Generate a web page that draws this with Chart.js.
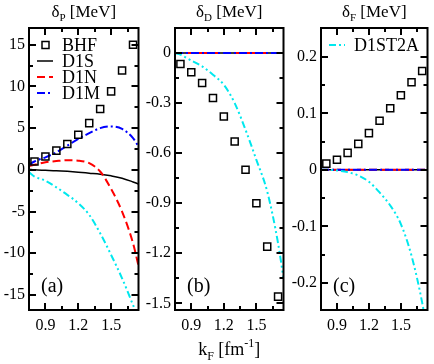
<!DOCTYPE html>
<html lang="en">
<head>
    <meta charset="UTF-8">
    <title>delta P D F</title>
    <script src="https://cdn.jsdelivr.net/npm/chart.js@4.4.1/dist/chart.umd.min.js"></script>
    <style>
        body { margin: 0; background: #fff; }
        #wrap { position: relative; width: 434px; height: 364px; background: #fff; }
        canvas { position: absolute; top: 0; }
    </style>
</head>
<body>
<div id="wrap">
    <canvas id="chartP" width="145" height="364" style="left:0px"></canvas>
    <canvas id="chartD" width="145" height="364" style="left:145px"></canvas>
    <canvas id="chartF" width="144" height="364" style="left:290px"></canvas>
</div>
<script>
    // k_F grid for the curves and for the BHF points
    const kF = [0.75, 0.8, 0.9, 1.0, 1.1, 1.2, 1.3, 1.4, 1.5, 1.6, 1.7, 1.75];
    const kBHF = [0.8, 0.9, 1.0, 1.1, 1.2, 1.3, 1.4, 1.5, 1.6, 1.7];

    // (a) delta_P
    const bhfP = [1.0, 1.6, 2.3, 3.1, 4.2, 5.6, 7.3, 9.4, 11.9, 15.0];
    const d1sP = [0.05, 0.0, -0.05, -0.1, -0.18, -0.28, -0.4, -0.52, -0.72, -1.0, -1.45, -1.7];
    const d1nP = [0.45, 0.6, 0.9, 1.05, 1.15, 1.1, 0.8, -0.2, -2.3, -5.0, -8.8, -11.5];
    const d1mP = [0.6, 1.0, 1.5, 2.1, 2.9, 3.7, 4.4, 5.0, 5.2, 4.9, 3.8, 2.8];
    const d1st2aP = [-0.3, -0.8, -1.3, -2.1, -3.0, -4.0, -5.4, -7.6, -10.2, -13.0, -16.2, -17.8];

    // (b) delta_D
    const bhfD = [-0.066, -0.115, -0.18, -0.27, -0.38, -0.53, -0.70, -0.90, -1.16, -1.46];
    const d1sD = [0, 0, 0, 0, 0, 0, 0, 0, 0, 0, 0, 0];
    const d1nD = [0, 0, 0, 0, 0, 0, 0, 0, 0, 0, 0, 0];
    const d1mD = [0, 0, 0, 0, 0, 0, 0, 0, 0, 0, 0, 0];
    const d1st2aD = [0, -0.01, -0.045, -0.08, -0.13, -0.19, -0.30, -0.46, -0.64, -0.83, -1.14, -1.35];

    // (c) delta_F
    const bhfF = [0.011, 0.018, 0.030, 0.046, 0.065, 0.087, 0.109, 0.132, 0.155, 0.175];
    const d1sF = [0, 0, 0, 0, 0, 0, 0, 0, 0, 0, 0, 0];
    const d1nF = [0, 0, 0, 0, 0, 0, 0, 0, 0, 0, 0, 0];
    const d1mF = [0, 0, 0, 0, 0, 0, 0, 0, 0, 0, 0, 0];
    const d1st2aF = [0, 0, -0.001, -0.004, -0.01, -0.021, -0.04, -0.063, -0.096, -0.152, -0.235, -0.29];

    // ticks
    const xTicks = [0.9, 1.2, 1.5];
    const xLabels = ['0.9', '1.2', '1.5'];
    const xMinor = [1.05, 1.35, 1.65];
    const yTicksP = [15, 10, 5, 0, -5, -10, -15];
    const yLabelsP = ['15', '10', '5', '0', '-5', '-10', '-15'];
    const yMinorP = [12.5, 7.5, 2.5, -2.5, -7.5, -12.5];
    const yTicksD = [0, -0.3, -0.6, -0.9, -1.2, -1.5];
    const yLabelsD = ['0', '-0.3', '-0.6', '-0.9', '-1.2', '-1.5'];
    const yMinorD = [0.15, -0.15, -0.45, -0.75, -1.05, -1.35];
    const yTicksF = [0.2, 0.1, 0, -0.1, -0.2];
    const yLabelsF = ['0.2', '0.1', '0', '-0.1', '-0.2'];
    const yMinorF = [0.15, 0.05, -0.05, -0.15];

    const FONT = "'Liberation Serif', 'Times New Roman', serif";

    function pts(xs, ys) {
        return xs.map((x, i) => ({ x: x, y: ys[i] }));
    }

    // draws text pieces with sub/superscripts, centred on cx
    function richText(ctx, parts, cx, base) {
        let w = 0;
        parts.forEach(p => {
            ctx.font = p.s + 'px ' + FONT;
            p.w = ctx.measureText(p.t).width;
            w += p.w;
        });
        let x = cx - w / 2;
        ctx.fillStyle = '#000';
        ctx.textAlign = 'left';
        ctx.textBaseline = 'alphabetic';
        parts.forEach(p => {
            ctx.font = p.s + 'px ' + FONT;
            ctx.fillText(p.t, x, base + (p.dy || 0));
            x += p.w;
        });
    }

    const framePlugin = {
        id: 'frame',
        afterDraw(chart, args, opts) {
            const ctx = chart.ctx;
            const a = chart.chartArea;
            const sx = chart.scales.x, sy = chart.scales.y;
            ctx.save();
            ctx.strokeStyle = '#000';
            ctx.lineWidth = 2;
            ctx.setLineDash([]);
            ctx.beginPath();
            const tickX = (v, len) => {
                const px = Math.round(sx.getPixelForValue(v));
                ctx.moveTo(px, a.bottom); ctx.lineTo(px, a.bottom - len);
                ctx.moveTo(px, a.top); ctx.lineTo(px, a.top + len);
            };
            const tickY = (v, len) => {
                const py = Math.round(sy.getPixelForValue(v));
                ctx.moveTo(a.left, py); ctx.lineTo(a.left + len, py);
                ctx.moveTo(a.right, py); ctx.lineTo(a.right - len, py);
            };
            xTicks.forEach(v => tickX(v, 7));
            xMinor.forEach(v => tickX(v, 4));
            opts.yMajor.forEach(v => tickY(v, 7));
            opts.yMinor.forEach(v => tickY(v, 4));
            ctx.stroke();
            ctx.strokeRect(a.left, a.top, a.right - a.left, a.bottom - a.top);

            // legend inside the plot
            opts.legend.forEach((di, row) => {
                const ds = chart.data.datasets[di];
                const y = a.top + 17 + row * 16;
                if (ds.showLine === false) {
                    ctx.lineWidth = 1.5;
                    ctx.setLineDash([]);
                    ctx.strokeStyle = ds.borderColor;
                    ctx.strokeRect(a.left + 13, y - 3.5, 7, 7);
                } else {
                    ctx.lineWidth = ds.borderWidth;
                    ctx.setLineDash(ds.borderDash || []);
                    ctx.strokeStyle = ds.borderColor;
                    ctx.beginPath();
                    ctx.moveTo(a.left + 8, y);
                    ctx.lineTo(a.left + 24, y);
                    ctx.stroke();
                }
                ctx.setLineDash([]);
                ctx.fillStyle = '#000';
                ctx.font = '18px ' + FONT;
                ctx.textAlign = 'left';
                ctx.textBaseline = 'middle';
                ctx.fillText(ds.label, a.left + 33, y + 1);
            });

            // panel tag
            ctx.fillStyle = '#000';
            ctx.font = '20px ' + FONT;
            ctx.textAlign = 'left';
            ctx.textBaseline = 'middle';
            ctx.fillText(opts.tag, a.left + 12, a.bottom - 23);

            const cx = (a.left + a.right) / 2;
            richText(ctx, [
                { t: 'δ', s: 17 },
                { t: opts.sub, s: 11, dy: 4 },
                { t: ' [MeV]', s: 17 }
            ], cx, 17);

            if (opts.xTitle) {
                richText(ctx, [
                    { t: 'k', s: 18 },
                    { t: 'F', s: 12, dy: 5 },
                    { t: ' [fm', s: 18 },
                    { t: '-1', s: 12, dy: -8 },
                    { t: ']', s: 18 }
                ], cx, 355);
            }
            ctx.restore();
        }
    };

    function makeDatasets(bhf, d1s, d1n, d1m, d1st2a) {
        const line = { showLine: true, pointRadius: 0, fill: false, cubicInterpolationMode: 'monotone' };
        return [
            { label: 'BHF', data: pts(kBHF, bhf), showLine: false, pointStyle: 'rect', pointRadius: 5,
              pointBorderWidth: 1.5, borderColor: '#000', pointBackgroundColor: 'rgba(255,255,255,0)', backgroundColor: 'rgba(255,255,255,0)' },
            Object.assign({ label: 'D1ST2A', data: pts(kF, d1st2a), borderColor: '#00e8ee', borderWidth: 2, borderDash: [7, 3, 2, 3, 2, 3] }, line),
            Object.assign({ label: 'D1M', data: pts(kF, d1m), borderColor: '#0000ff', borderWidth: 2, borderDash: [8, 3, 2, 3] }, line),
            Object.assign({ label: 'D1N', data: pts(kF, d1n), borderColor: '#ff0000', borderWidth: 2, borderDash: [8, 4] }, line),
            Object.assign({ label: 'D1S', data: pts(kF, d1s), borderColor: '#000', borderWidth: 1.5 }, line)
        ];
    }

    function makeChart(id, cfg) {
        const ctx = document.getElementById(id).getContext('2d');
        return new Chart(ctx, {
            type: 'scatter',
            data: { datasets: makeDatasets.apply(null, cfg.series) },
            options: {
                responsive: false,
                animation: false,
                layout: { padding: { left: 0, right: cfg.padRight, top: 28, bottom: 24 } },
                plugins: {
                    legend: { display: false },
                    tooltip: { enabled: false },
                    frame: {
                        yMajor: cfg.yTicks, yMinor: cfg.yMinor, legend: cfg.legend,
                        tag: cfg.tag, sub: cfg.sub, xTitle: cfg.xTitle
                    }
                },
                scales: {
                    x: {
                        type: 'linear', min: 0.75, max: 1.75,
                        grid: { display: false, drawTicks: false },
                        border: { display: false },
                        afterBuildTicks: s => { s.ticks = xTicks.map(v => ({ value: v })); },
                        afterFit: s => { s.height = 30; },
                        ticks: {
                            autoSkip: false, maxRotation: 0, padding: 6, color: '#000',
                            font: { family: FONT, size: 16 },
                            callback: (v, i) => xLabels[i]
                        }
                    },
                    y: {
                        type: 'linear', min: cfg.yMin, max: cfg.yMax,
                        grid: { display: false, drawTicks: false },
                        border: { display: false },
                        afterBuildTicks: s => { s.ticks = cfg.yTicks.map(v => ({ value: v })); },
                        afterFit: s => { s.width = cfg.yWidth; },
                        ticks: {
                            autoSkip: false, padding: 4, color: '#000',
                            font: { family: FONT, size: 16 },
                            callback: (v, i) => cfg.yLabels[i]
                        }
                    }
                }
            },
            plugins: [framePlugin]
        });
    }

    makeChart('chartP', {
        series: [bhfP, d1sP, d1nP, d1mP, d1st2aP],
        yMin: -16.8, yMax: 17.0, yTicks: yTicksP, yLabels: yLabelsP, yMinor: yMinorP,
        yWidth: 29, padRight: 6, legend: [0, 4, 3, 2], tag: '(a)', sub: 'P', xTitle: false
    });
    makeChart('chartD', {
        series: [bhfD, d1sD, d1nD, d1mD, d1st2aD],
        yMin: -1.54, yMax: 0.15, yTicks: yTicksD, yLabels: yLabelsD, yMinor: yMinorD,
        yWidth: 30, padRight: 4, legend: [], tag: '(b)', sub: 'D', xTitle: true
    });
    makeChart('chartF', {
        series: [bhfF, d1sF, d1nF, d1mF, d1st2aF],
        yMin: -0.248, yMax: 0.251, yTicks: yTicksF, yLabels: yLabelsF, yMinor: yMinorF,
        yWidth: 31, padRight: 2, legend: [1], tag: '(c)', sub: 'F', xTitle: false
    });
</script>
</body>
</html>
